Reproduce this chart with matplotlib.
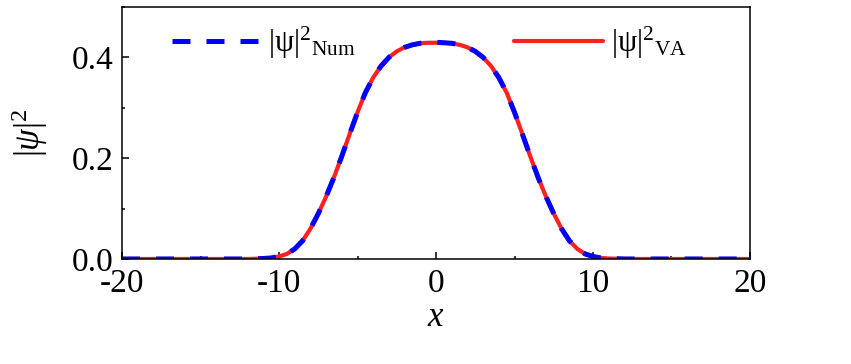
"""plot.py: soliton density profile, numerics vs variational approximation"""

import matplotlib
matplotlib.use("Agg")
import matplotlib.pyplot as plt
from matplotlib.ticker import MultipleLocator

plt.rcParams["font.family"] = ["Liberation Serif", "DejaVu Serif"]
plt.rcParams["mathtext.fontset"] = "custom"
plt.rcParams["mathtext.rm"] = "Liberation Serif"
plt.rcParams["mathtext.it"] = "Liberation Serif:italic"

# half profile (x <= 0), mirrored below
x_half = [-20, -15, -12, -11, -10.5, -10, -9.5, -9, -8.5, -8, -7.5, -7, -6.5,
          -6, -5.5, -5, -4.5, -4, -3.5, -3, -2.5, -2, -1.5, -1, -0.5, 0]
num_half = [0.0, 0.0, 0.0, 0.001, 0.002, 0.005, 0.010, 0.020, 0.036, 0.060,
            0.090, 0.124, 0.162, 0.204, 0.248, 0.291, 0.330, 0.360, 0.383,
            0.400, 0.412, 0.420, 0.425, 0.428, 0.429, 0.430]
va_half = [0.0, 0.0, 0.0, 0.001, 0.002, 0.005, 0.010, 0.020, 0.036, 0.060,
           0.090, 0.124, 0.162, 0.204, 0.248, 0.291, 0.330, 0.360, 0.383,
           0.400, 0.412, 0.420, 0.425, 0.428, 0.429, 0.429]

x = x_half + [-v for v in x_half[-2::-1]]
psi_num = num_half + num_half[-2::-1]
psi_va = va_half + va_half[-2::-1]

fig = plt.figure(figsize=(8.51, 3.64), dpi=100)
ax = fig.add_axes([0.1434, 0.2885, 0.7379, 0.6923])

ax.plot(x, psi_va, color="#ff2020", lw=3.0, solid_capstyle="round",
        label=r"|ψ|$^{2}$${}_{\mathrm{VA}}$")
ax.plot(x, psi_num, color="#0000ff", lw=3.6, linestyle=(0, (3.6, 3.2)),
        label=r"|ψ|$^{2}$${}_{\mathrm{Num}}$")

ax.set_xlim(-20, 20)
ax.set_ylim(0, 0.5)
ax.xaxis.set_major_locator(MultipleLocator(10))
ax.xaxis.set_minor_locator(MultipleLocator(5))
ax.yaxis.set_major_locator(MultipleLocator(0.2))
ax.yaxis.set_minor_locator(MultipleLocator(0.1))
ax.tick_params(which="both", direction="in", top=False, right=False,
               labelsize=24, width=1.1)
ax.tick_params(which="major", length=5)
ax.tick_params(which="minor", length=2.5)
ax.tick_params(axis="x", pad=7)
ax.tick_params(axis="y", pad=6)
ax.xaxis.set_major_formatter(matplotlib.ticker.FuncFormatter(
    lambda v, p: f"{v:.0f}"))
ax.yaxis.set_major_formatter(matplotlib.ticker.FuncFormatter(
    lambda v, p: f"{v:.1f}"))
for s in ax.spines.values():
    s.set_linewidth(1.1)

ax.set_xlabel(r"$x$", fontsize=25, labelpad=1)
ax.set_ylabel(r"|$\mathit{ψ}$|$^{2}$", fontsize=25, labelpad=16)

handles, labels = ax.get_legend_handles_labels()
ax.legend(handles[::-1], labels[::-1], ncol=2, frameon=False, fontsize=22,
          loc="upper left", bbox_to_anchor=(0.035, 1.04), handlelength=2.9,
          handletextpad=0.25, columnspacing=5.2)

fig.savefig("out.png", dpi=100)
